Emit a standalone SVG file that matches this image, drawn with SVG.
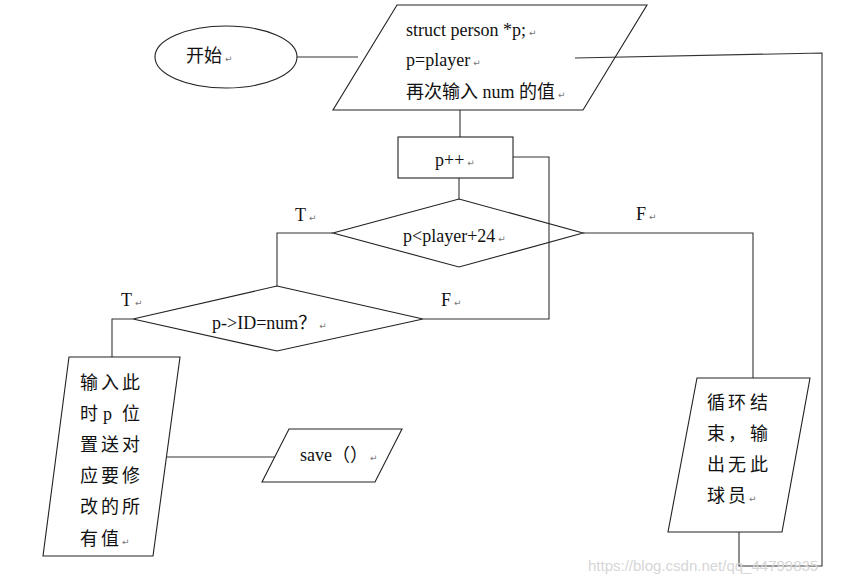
<svg xmlns="http://www.w3.org/2000/svg" width="841" height="581" viewBox="0 0 841 581">
<style>
  .shape { fill: none; stroke: #222; stroke-width: 1.1; }
  .conn { fill: none; stroke: #333; stroke-width: 1.1; }
  .t { font-family: "Liberation Serif", "Noto Sans CJK SC", serif; font-size: 18px; fill: #111; }
  .r { font-family: "DejaVu Sans", sans-serif; font-size: 9px; fill: #777; }
  .wm { font-family: "Liberation Sans", sans-serif; font-size: 15px; fill: #d6d6d6; }
</style>
<rect width="841" height="581" fill="#ffffff"/>
<g id="connectors">
  <path class="conn" d="M297 57 H358"/>
  <path class="conn" d="M575 58 L822 53 V566 H739 V532"/>
  <path class="conn" d="M460 110 V137"/>
  <path class="conn" d="M459 178 V199"/>
  <path class="conn" d="M513 157 H549 V319 H423"/>
  <path class="conn" d="M333 233 H277 V286"/>
  <path class="conn" d="M583 233 H753 V378"/>
  <path class="conn" d="M133 319 H112 V357"/>
  <path class="conn" d="M167 457 H275"/>
</g>
<g id="start">
  <ellipse class="shape" cx="226" cy="57" rx="71" ry="31"/>
  <text class="t" x="186" y="62">开始<tspan class="r" dx="3">↵</tspan></text>
</g>
<g id="init">
  <polygon class="shape" points="397,5 647,5 583,110 333,110"/>
  <text class="t" x="406" y="36">struct person *p;<tspan class="r" dx="3">↵</tspan></text>
  <text class="t" x="406" y="66">p=player<tspan class="r" dx="3">↵</tspan></text>
  <text class="t" x="406" y="98">再次输入 num 的值<tspan class="r" dx="3">↵</tspan></text>
</g>
<g id="inc">
  <rect class="shape" x="398" y="137" width="115" height="41"/>
  <text class="t" x="435" y="166">p++<tspan class="r" dx="3">↵</tspan></text>
</g>
<g id="cond1">
  <polygon class="shape" points="459,199 583,233 459,267 333,233"/>
  <text class="t" x="403" y="242">p&lt;player+24<tspan class="r" dx="3">↵</tspan></text>
  <text class="t" x="295" y="221">T<tspan class="r" dx="3">↵</tspan></text>
  <text class="t" x="636" y="220">F<tspan class="r" dx="3">↵</tspan></text>
</g>
<g id="cond2">
  <polygon class="shape" points="277,286 423,319 277,351 133,319"/>
  <text class="t" x="212" y="329">p-&gt;ID=num？<tspan class="r" dx="3">↵</tspan></text>
  <text class="t" x="121" y="306">T<tspan class="r" dx="3">↵</tspan></text>
  <text class="t" x="441" y="306">F<tspan class="r" dx="3">↵</tspan></text>
</g>
<g id="modify">
  <polygon class="shape" points="69,357 180,357 153,556 43,556"/>
  <text class="t" x="80 101 122" y="389">输入此</text>
  <text class="t" x="80 103 122" y="420">时p位</text>
  <text class="t" x="80 101 122" y="451">置送对</text>
  <text class="t" x="80 101 122" y="482">应要修</text>
  <text class="t" x="80 101 122" y="513">改的所</text>
  <text class="t" x="80 101" y="545">有值<tspan class="r" dx="3">↵</tspan></text>
</g>
<g id="save">
  <polygon class="shape" points="289,429 402,429 375,482 262,482"/>
  <text class="t" x="300" y="461">save（）<tspan class="r" dx="2">↵</tspan></text>
</g>
<g id="notfound">
  <polygon class="shape" points="697,378 810,378 782,532 668,532"/>
  <text class="t" x="707 728 750" y="409">循环结</text>
  <text class="t" x="707 728 750" y="440">束，输</text>
  <text class="t" x="707 728 750" y="471">出无此</text>
  <text class="t" x="707 728" y="502">球员<tspan class="r" dx="3">↵</tspan></text>
</g>
<text class="wm" x="588" y="571">https://blog.csdn.net/qq_44799835</text>
</svg>
